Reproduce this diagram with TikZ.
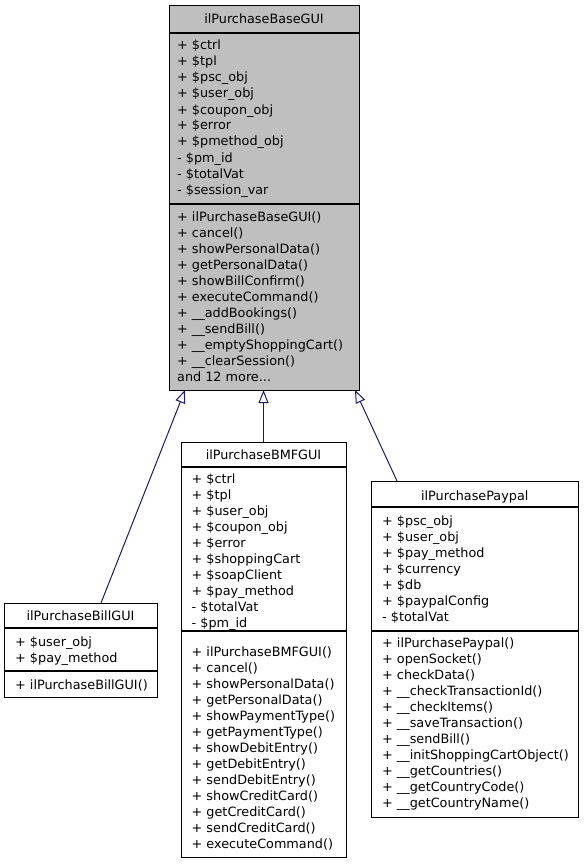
\documentclass[tikz,border=0pt]{standalone}
\usepackage{fontspec}
\setmainfont{DejaVu Sans}
\usetikzlibrary{arrows.meta}
\definecolor{edgeblue}{HTML}{191970}
\definecolor{basegray}{HTML}{BFBFBF}
\tikzset{
	classbox/.style={draw=black, line width=1pt, inner sep=0pt, outer sep=0pt, anchor=north west},
	sepline/.style={draw=black, line width=1.8pt},
	classtitle/.style={anchor=base, inner sep=0pt, font=\fontsize{12.8}{16}\selectfont},
	member/.style={anchor=base west, inner sep=0pt, font=\fontsize{12.8}{16}\selectfont},
	inherit/.style={draw=edgeblue, line width=1pt, -{Triangle[open, length=13pt, width=10pt, fill=white]}},
}
\def\members(#1)(#2,#3)#4{\foreach \m [count=\k] in {#4} \node[member] (#1\k) at (#2, {#3+16*(\k-1)}) {\m};}

\begin{document}
\begin{tikzpicture}[x=1pt, y=-1pt]
			%%%%% START %%%%%
			\useasboundingbox (0,0) rectangle (584,864);
			
			% base class
			\node[classbox, fill=basegray, minimum width=190pt, minimum height=384pt] (base) at (169,6) {};
			\draw[sepline] (base.west |- 0,33) -- (base.east |- 0,33);
			\draw[sepline] (base.west |- 0,204) -- (base.east |- 0,204);
			\node[classtitle] (base-t) at (264,24) {ilPurchaseBaseGUI};
			\members(base-a)(177,50){+ \$ctrl, + \$tpl, + \$psc\_obj, + \$user\_obj, + \$coupon\_obj, + \$error, + \$pmethod\_obj, - \$pm\_id, - \$totalVat, - \$session\_var}
			\members(base-m)(177,221){+ ilPurchaseBaseGUI(), + cancel(), + showPersonalData(), + getPersonalData(), + showBillConfirm(), + executeCommand(), + \_\_addBookings(), + \_\_sendBill(), + \_\_emptyShoppingCart(), + \_\_clearSession(), and 12 more.{}.{}.}
			
			% bill
			\node[classbox, minimum width=153pt, minimum height=94pt] (bill) at (4,603) {};
			\draw[sepline] (bill.west |- 0,628) -- (bill.east |- 0,628);
			\draw[sepline] (bill.west |- 0,671) -- (bill.east |- 0,671);
			\node[classtitle] (bill-t) at (80.5,620) {ilPurchaseBillGUI};
			\members(bill-a)(15,646){+ \$user\_obj, + \$pay\_method}
			\members(bill-m)(15,689){+ ilPurchaseBillGUI()}
			
			% bmf
			\node[classbox, minimum width=165pt, minimum height=415pt] (bmf) at (181,442) {};
			\draw[sepline] (bmf.west |- 0,467) -- (bmf.east |- 0,467);
			\draw[sepline] (bmf.west |- 0,631) -- (bmf.east |- 0,631);
			\node[classtitle] (bmf-t) at (263.5,459) {ilPurchaseBMFGUI};
			\members(bmf-a)(191.5,483){+ \$ctrl, + \$tpl, + \$user\_obj, + \$coupon\_obj, + \$error, + \$shoppingCart, + \$soapClient, + \$pay\_method, - \$totalVat, - \$pm\_id}
			\members(bmf-m)(191.5,656){+ ilPurchaseBMFGUI(), + cancel(), + showPersonalData(), + getPersonalData(), + showPaymentType(), + getPaymentType(), + showDebitEntry(), + getDebitEntry(), + sendDebitEntry(), + showCreditCard(), + getCreditCard(), + sendCreditCard(), + executeCommand()}
			
			% paypal
			\node[classbox, minimum width=207.5pt, minimum height=336pt] (paypal) at (371,481) {};
			\draw[sepline] (paypal.west |- 0,507) -- (paypal.east |- 0,507);
			\draw[sepline] (paypal.west |- 0,631) -- (paypal.east |- 0,631);
			\node[classtitle] (paypal-t) at (474.75,500) {ilPurchasePaypal};
			\members(paypal-a)(382,525){+ \$psc\_obj, + \$user\_obj, + \$pay\_method, + \$currency, + \$db, + \$paypalConfig, - \$totalVat}
			\members(paypal-m)(382,647){+ ilPurchasePaypal(), + openSocket(), + checkData(), + \_\_checkTransactionId(), + \_\_checkItems(), + \_\_saveTransaction(), + \_\_sendBill(), + \_\_initShoppingCartObject(), + \_\_getCountries(), + \_\_getCountryCode(), + \_\_getCountryName()}
			
			% inheritance
			\draw[inherit] ([xshift=97pt]bill.north west) -- ([xshift=16pt]base.south west);
			\draw[inherit] (bmf.north) -- (bmf.north |- base.south);
			\draw[inherit] ([xshift=26pt]paypal.north west) -- ([xshift=-4pt]base.south east);
			%%%%% END %%%%%
\end{tikzpicture}
\end{document}
